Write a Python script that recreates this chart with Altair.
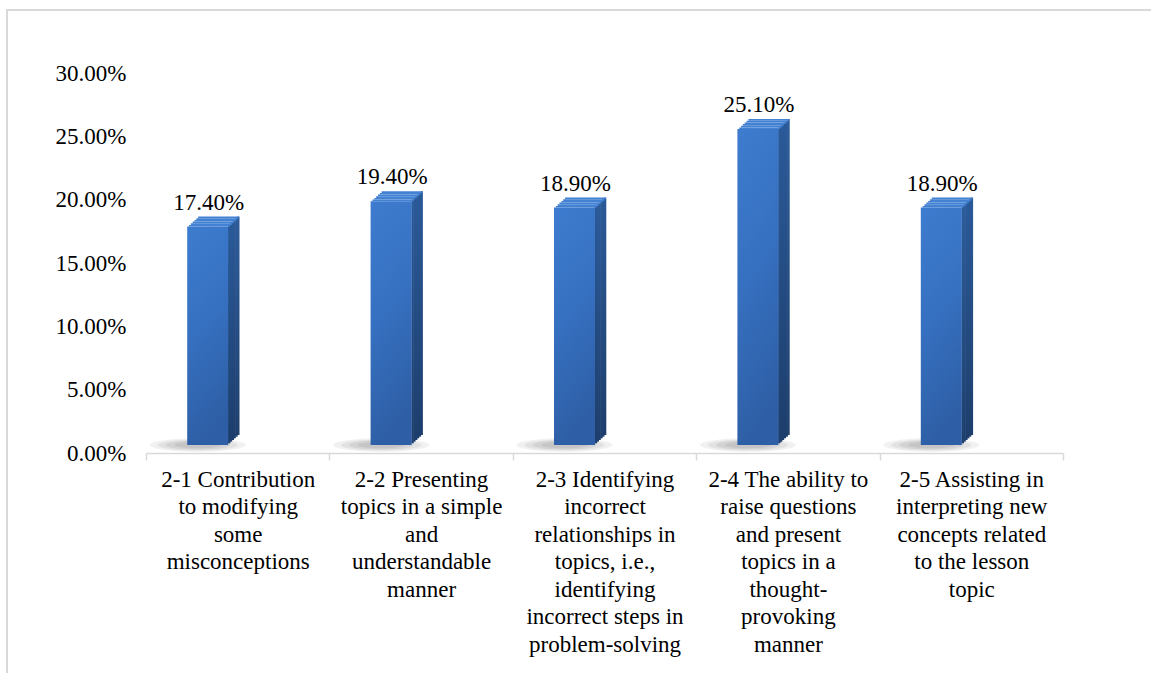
import altair as alt
import pandas as pd

categories = [
    "2-1 Contribution|to modifying|some|misconceptions",
    "2-2 Presenting|topics in a simple|and|understandable|manner",
    "2-3 Identifying|incorrect|relationships in|topics, i.e.,|identifying|incorrect steps in|problem-solving",
    "2-4 The ability to|raise questions|and present|topics in a|thought-|provoking|manner",
    "2-5 Assisting in|interpreting new|concepts related|to the lesson|topic",
]
values = [0.174, 0.194, 0.189, 0.251, 0.189]
y_ticks = [0, 0.05, 0.10, 0.15, 0.20, 0.25, 0.30]

df = pd.DataFrame({"cat": categories, "val": values})

FONT = "'Times New Roman', 'Liberation Serif', 'DejaVu Serif', serif"

x_enc = alt.X(
    "cat:N",
    sort=None,
    scale=alt.Scale(paddingInner=0, paddingOuter=0),
    axis=alt.Axis(
        title=None,
        labelAngle=0,
        labelExpr="split(datum.label, '|')",
        labelFont=FONT,
        labelFontSize=23,
        labelColor="#000000",
        labelLineHeight=27.5,
        labelLimit=0,
        labelPadding=8,
        labelBaseline="top",
        tickBand="extent",
        tickSize=7,
        tickColor="#d9d9d9",
        tickWidth=1.5,
        domainColor="#d9d9d9",
        domainWidth=1.5,
        grid=False,
    ),
)
y_scale = alt.Scale(domain=[0, 0.30], nice=False, zero=True)
y_enc = alt.Y(
    "val:Q",
    scale=y_scale,
    axis=alt.Axis(
        title=None,
        values=y_ticks,
        format=".2%",
        labelFont=FONT,
        labelFontSize=23,
        labelColor="#000000",
        labelPadding=20,
        ticks=False,
        domain=False,
        grid=False,
    ),
)

base = alt.Chart(df)

FRONT_X = -30.0   # front face centre offset in the band
FRONT_W = 41
TOP_OFF = -6      # front top offset
BOT_OFF = -8      # front bottom offset
STEPS = 6
DX = 11 / STEPS
DY = 10 / STEPS

layers = []

# soft shadow: stacked translucent ellipses at the base
ellipse = "M -1 0 A 1 0.14 0 1 1 1 0 A 1 0.14 0 1 1 -1 0 Z"
for w, op in [(96, 0.10), (80, 0.12), (64, 0.14), (46, 0.16)]:
    layers.append(
        base.mark_point(
            shape=ellipse, filled=True, color="#7a7a7a", opacity=op,
            size=w * w, strokeWidth=0, xOffset=-40, yOffset=-8,
        ).encode(x=x_enc, y=alt.Y("zero:Q", scale=y_scale)).transform_calculate(zero="0")
    )

side_grad = alt.LinearGradient(
    gradient="linear",
    stops=[
        alt.GradientStop(offset=0, color="#2b5a99"),
        alt.GradientStop(offset=1, color="#1d3e6c"),
    ],
    x1=0, y1=0, x2=0, y2=1,
)
top_col = "#4381d3"

# side face approximated by thin slices stepping up and right
for k in range(1, STEPS + 1):
    cx = FRONT_X + FRONT_W / 2 + DX * (k - 0.5)
    layers.append(
        base.mark_bar(
            width=DX + 0.6, xOffset=cx,
            yOffset=TOP_OFF - DY * k, y2Offset=BOT_OFF - DY * k,
            color=side_grad,
        ).encode(x=x_enc, y=y_enc, y2=alt.datum(0))
    )
# top face slices
for k in range(1, STEPS + 1):
    cx = FRONT_X + DX * k
    layers.append(
        base.mark_bar(
            width=FRONT_W, xOffset=cx,
            yOffset=TOP_OFF - DY * k, y2Offset=TOP_OFF - DY * (k - 1),
            color=top_col,
        ).encode(x=x_enc, y=y_enc, y2="val:Q")
    )

front_face = base.mark_bar(
    width=FRONT_W,
    xOffset=FRONT_X,
    yOffset=TOP_OFF,
    y2Offset=BOT_OFF,
    color=alt.LinearGradient(
        gradient="linear",
        stops=[
            alt.GradientStop(offset=0, color="#3e7ccf"),
            alt.GradientStop(offset=0.5, color="#3670c0"),
            alt.GradientStop(offset=1, color="#2e5fa6"),
        ],
        x1=0, y1=0, x2=0.2, y2=1,
    ),
).encode(x=x_enc, y=y_enc, y2=alt.datum(0))
layers.append(front_face)

labels = base.mark_text(
    font=FONT,
    fontSize=23,
    color="#000000",
    baseline="alphabetic",
    align="center",
    dy=-23,
    xOffset=-29,
).encode(x=x_enc, y=y_enc, text=alt.Text("val:Q", format=".2%"))
layers.append(labels)

border = alt.Chart(pd.DataFrame({"k": [0]})).mark_rect(
    fillOpacity=0, stroke="#d9d9d9", strokeWidth=2
).encode(
    x=alt.value(-139), x2=alt.value(1020), y=alt.value(-63), y2=alt.value(700)
)

chart = alt.layer(border, *layers).properties(
    width=917,
    height=380,
    padding={"left": 146, "top": 73, "right": 88, "bottom": 220},
    autosize=alt.AutoSizeParams(type="none"),
    background="#ffffff",
).configure_view(stroke=None)

chart.save("out.html", embed_options={"renderer": "svg", "actions": False})
